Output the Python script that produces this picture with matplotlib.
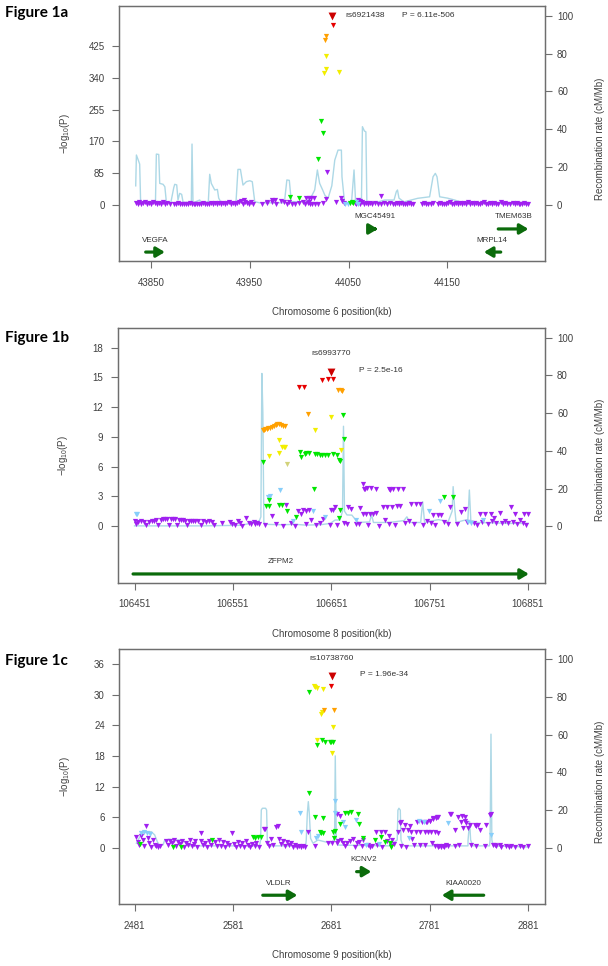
import matplotlib
matplotlib.use('Agg')
import matplotlib.pyplot as plt

plt.rcParams['font.family'] = ['Liberation Sans', 'DejaVu Sans']
plt.rcParams['mathtext.default'] = 'regular'

# ---------------- Figure 1a : chromosome 6 ----------------
a_lead = [(44033.5, 505.2)]
a_red = [(44034.0, 481)]
a_orange = [(44027.4, 452), (44026.0, 442)]
a_yellow = [(44026.8, 399), (44027.1, 363), (44025.4, 354), (44040.6, 355)]
a_green = [(44021.8, 225), (44024.4, 193), (44019.0, 124), (43991.0, 21), (43999.5, 19),
           (44051.0, 5), (44053.0, 6), (44054.5, 4)]
a_lightblue = [(44046, 1), (44049, 2), (44057, 8), (44060, 3)]
a_purple = [(44028, 88), (43944, 14), (43972, 14), (43975, 12), (43982, 10), (44007, 18),
            (44009.5, 17), (44012, 18), (44014.5, 17), (44027.5, 15), (44042.7, 19),
            (44059.5, 14), (44062, 11), (44083, 23), (43967, 8), (43990, 6), (44000, 5),
            (44010, 8),
            (43835, 5), (43837, 3), (43838, 7), (43840, 2), (43842, 4), (43844, 6), (43846, 3),
            (43848, 5), (43850, 2), (43852, 6), (43854, 4), (43856, 1), (43858, 5), (43860, 3),
            (43862, 6), (43864, 2), (43866, 4), (43869, 2), (43873, 3), (43875, 1), (43877, 4),
            (43879, 2), (43881, 3), (43883, 1), (43885, 3), (43887, 2), (43889, 4), (43891, 1),
            (43893, 3), (43895, 2), (43897, 1), (43899, 3), (43901, 2), (43903, 4), (43905, 1),
            (43907, 3), (43909, 2), (43911, 4), (43913, 3), (43915, 5), (43917, 2), (43919, 4),
            (43921, 3), (43923, 5), (43925, 2), (43927, 4), (43929, 6), (43931, 3), (43933, 5),
            (43935, 2), (43937, 4), (43939, 6), (43941, 9), (43943, 3), (43945, 7), (43947, 5),
            (43949, 3), (43951, 6), (43953, 2), (43962, 2), (43967, 4), (43972, 6), (43977, 3),
            (43985, 8), (43988, 2), (43993, 1), (43996, 3), (44004, 6), (44006, 2), (44009, 4),
            (44011, 1), (44013, 3), (44016, 2), (44019, 1), (44024, 5), (44037, 7), (44043, 9),
            (44045, 4), (44056, 5), (44058, 2), (44060, 8), (44062, 3), (44064, 6), (44066, 2),
            (44068, 5), (44070, 1), (44072, 4), (44074, 2), (44077, 5), (44080, 3), (44083, 1),
            (44086, 4), (44089, 2), (44092, 5), (44095, 1), (44097, 3), (44099, 4), (44101, 2),
            (44103, 5), (44105, 1), (44107, 3), (44109, 2), (44111, 4), (44113, 1), (44115, 3),
            (44124, 2), (44126, 5), (44128, 1), (44130, 3), (44133, 2), (44135, 4), (44141, 1),
            (44143, 5), (44145, 2), (44147, 3), (44149, 1), (44151, 4), (44153, 6), (44155, 2),
            (44157, 3), (44159, 5), (44161, 1), (44163, 4), (44165, 2), (44167, 5), (44169, 3),
            (44171, 6), (44173, 2), (44175, 4), (44177, 1), (44179, 5), (44181, 3), (44183, 2),
            (44185, 4), (44187, 6), (44189, 1), (44191, 3), (44193, 5), (44195, 2), (44197, 4),
            (44199, 1), (44201, 3), (44204, 6), (44206, 2), (44208, 4), (44210, 1), (44213, 3),
            (44216, 5), (44218, 2), (44220, 4), (44222, 1), (44224, 3), (44226, 2), (44228, 4),
            (44230, 1), (44232, 2)]
a_rate = [(43834.5, 10), (43835.2, 26.3), (43837.5, 23), (43838.5, 21.5), (43839.5, 1),
          (43845, 1.2), (43854.5, 1.5), (43855.4, 26.8), (43857.8, 26.6), (43858.8, 11.3),
          (43862.2, 10.8), (43864, 9.5), (43865.5, 1.6), (43870, 1), (43873, 9), (43874, 10.8),
          (43876, 10.5), (43877.3, 2.5), (43879, 6), (43881, 5.5), (43882.5, 1.2),
          (43890.8, 1.2), (43891.5, 32.1), (43892.5, 1), (43899.3, 2.5), (43901, 1),
          (43908, 1.5), (43909.4, 16.1), (43911, 11.3), (43914.5, 7.8), (43917.2, 8.1),
          (43918.5, 3.5), (43921, 1.1), (43936, 1.2), (43938, 18.7), (43940.5, 18.7),
          (43943.1, 10.4), (43946.5, 12.2), (43950, 12.7), (43952.5, 12.2), (43955, 1.6),
          (43960, 1), (43985, 1), (43987.5, 13.1), (43990, 12.9), (43992, 1.6), (44008, 1.6),
          (44013, 5), (44015.7, 7.8), (44018.4, 18.4), (44020.7, 11.3), (44024, 7.5),
          (44026, 5), (44029.2, 3.4), (44033, 10), (44036, 23.6), (44039.3, 28.9),
          (44042.7, 28.9), (44043.3, 14.8), (44046, 0.7), (44053, 1.5), (44055.5, 18.4),
          (44057, 2.5), (44063, 1.5), (44064, 41.3), (44066, 39), (44067.5, 38.6),
          (44068.5, 1), (44080, 1.5), (44086.5, 2.5), (44096, 2.5), (44098.3, 6.9),
          (44099.5, 7.8), (44101, 3.5), (44106, 1.5), (44120, 3.4), (44132, 4.2),
          (44135.5, 14.8), (44137.8, 16.6), (44139.5, 14.8), (44142.2, 4.2), (44150, 3.5),
          (44157.4, 2.5), (44163, 1.5), (44175, 0.8), (44200, 0.6), (44232, 0.3)]
# gene: name, tail, head, arrow y, label x, label y
a_genes = [('VEGFA', 43844.6, 43864.0, -127, 43854, -95),
           ('MGC45491', 44075.0, 44079.5, -65, 44077, -32),
           ('TMEM63B', 44201.5, 44232.0, -65, 44217, -32),
           ('MRPL14', 44204.0, 44187.0, -127, 44195, -95)]

# ---------------- Figure 1b : chromosome 8 ----------------
b_lead = [(106650.8, 15.6)]
b_red = [(106641.7, 14.75), (106648.1, 14.8), (106652.5, 14.8), (106618.3, 14.0), (106623.7, 14.05)]
b_orange = [(106658.3, 13.75), (106660.5, 13.7), (106661.7, 13.65), (106627.1, 11.3),
            (106581.3, 9.7), (106582.5, 9.75), (106583.7, 9.8), (106585.5, 9.85), (106587.1, 9.9),
            (106588.8, 9.95), (106590.5, 10.05), (106592.9, 10.12), (106594.5, 10.2),
            (106595.6, 10.28), (106597.9, 10.32), (106600.0, 10.22), (106602.4, 10.12),
            (106604.4, 10.12)]
b_yellow = [(106650.5, 11.05), (106634.2, 9.7), (106598.3, 8.7), (106600.7, 7.96), (106602.5, 7.96),
            (106604.0, 7.96), (106597.6, 7.36), (106587.8, 7.09), (106660.7, 7.7)]
b_khaki = [(106606.4, 6.28)]
b_green = [(106662.7, 11.2), (106663.7, 8.8), (106581.3, 6.45), (106619.3, 7.5), (106620.5, 7.0),
           (106624.4, 7.3), (106625.4, 7.35), (106628.8, 7.4), (106634.6, 7.3), (106637.0, 7.25),
           (106639.6, 7.2), (106642.0, 7.2), (106644.7, 7.2), (106648.1, 7.2), (106653.2, 7.26),
           (106656.6, 7.2), (106659.3, 6.7), (106660.2, 6.6), (106633.5, 3.8), (106587.4, 2.66),
           (106585.0, 2.05), (106587.4, 2.05), (106597.6, 2.15), (106601.3, 2.15), (106606.4, 1.5),
           (106615.6, 0.9), (106659.6, 1.65), (106658.6, 0.8), (106765.7, 2.9), (106774.9, 2.9)]
b_lightblue = [(106452, 1.25), (106454, 1.2), (106588.4, 3.06), (106586.5, 2.9), (106598.6, 3.66),
               (106632, 1.5), (106612, 0.5), (106645, 0.9), (106676, 0.6), (106750, 1.5),
               (106762, 2.5), (106790, 0.4), (106793, 0.3), (106805, 0.6)]
b_purple = [(106683.4, 4.3), (106684.5, 3.8), (106685.1, 3.75), (106687.8, 3.85), (106691.8, 3.85),
            (106696.9, 3.77), (106709.5, 3.77), (106711.0, 3.7), (106713.9, 3.73), (106719.0, 3.73),
            (106724.0, 3.73),
            (106591.2, 1.0), (106605.4, 2.1), (106617.3, 1.5), (106620.0, 1.2), (106622.3, 1.6),
            (106625.5, 1.55), (106628.8, 1.6), (106630.8, 0.6), (106643.0, 0.7), (106651.2, 1.65),
            (106653.0, 1.6), (106655.0, 1.9), (106668.1, 1.9), (106671.5, 1.7), (106680.0, 1.8),
            (106683.0, 1.25), (106686.0, 1.25), (106690.0, 1.25), (106693.0, 1.25), (106697.0, 1.3),
            (106703.7, 1.9), (106705.4, 0.6), (106708.0, 1.9), (106713.0, 1.95), (106718.0, 2.0),
            (106721.0, 2.05), (106732.5, 2.25), (106737.6, 2.25), (106741.0, 2.2), (106754.6, 1.15),
            (106759.6, 1.15), (106762.4, 1.15), (106771.5, 1.9), (106783.4, 1.4), (106786.8, 1.7),
            (106802.0, 1.25), (106807.0, 1.25), (106813.2, 1.25), (106816.6, 0.8), (106822.3, 1.3),
            (106834.2, 1.9), (106837.6, 1.25), (106847.0, 1.25), (106851.0, 1.25),
            (106451, 0.5), (106453, 0.2), (106455, 0.45), (106458, 0.5), (106461, 0.4),
            (106463, 0.15), (106466, 0.45), (106469, 0.5), (106471, 0.55), (106473, 0.6),
            (106475, 0.1), (106478, 0.65), (106480, 0.7), (106482, 0.7), (106484, 0.72),
            (106486, 0.1), (106488, 0.75), (106490, 0.72), (106492, 0.7), (106494, 0.1),
            (106496, 0.68), (106498, 0.6), (106500, 0.58), (106502, 0.55), (106504, 0.1),
            (106506, 0.55), (106508, 0.5), (106510, 0.52), (106513, 0.5), (106516, 0.48),
            (106519, 0.1), (106521, 0.5), (106524, 0.45), (106527, 0.55), (106530, 0.4),
            (106532, 0.1), (106540, 0.35), (106548, 0.45), (106550, 0.2), (106553, 0.15),
            (106556, 0.55), (106558, 0.3), (106560, 0.05), (106564, 0.8), (106567, 0.35),
            (106569, 0.2), (106572, 0.4), (106574, 0.25), (106576, 0.35), (106578, 0.2),
            (106584, 0.1), (106595, 0.2), (106602, 0.05), (106610, 0.3), (106614, 0.05),
            (106625, 0.2), (106636, 0.1), (106640, 0.35), (106650, 0.1), (106657, 0.1),
            (106664, 0.3), (106667, 0.25), (106676, 0.2), (106679, 0.25), (106688, 0.1),
            (106700, 0.05), (106710, 0.25), (106716, 0.15), (106726, 0.3), (106730, 0.55),
            (106735, 0.2), (106744, 0.1), (106748, 0.5), (106752, 0.3), (106757, 0.15),
            (106766, 0.4), (106770, 0.2), (106779, 0.25), (106789, 0.45), (106796, 0.3),
            (106799, 0.1), (106804, 0.4), (106810, 0.2), (106815, 0.5), (106819, 0.3),
            (106825, 0.35), (106828, 0.5), (106831, 0.3), (106836, 0.4), (106840, 0.2),
            (106843, 0.6), (106846, 0.3), (106849, 0.1)]
b_rate = [(106451, 0.2), (106520, 0.2), (106560, 0.5), (106568, 1.5), (106572, 3), (106575, 2),
          (106578, 3), (106579.5, 5), (106580.5, 81), (106581.5, 60), (106582.5, 2), (106585, 1),
          (106600, 0.8), (106615, 1), (106625, 0.6), (106640, 0.8), (106650, 1.5), (106655, 3.3),
          (106660, 3.3), (106662.5, 8), (106663.5, 53), (106664.5, 8), (106667, 6), (106672, 5.9),
          (106678, 2), (106690, 2.3), (106692, 6), (106694, 2), (106710, 2), (106725, 3),
          (106728, 5), (106731, 2), (106742, 2), (106744, 13), (106746, 2), (106760, 3.5),
          (106770, 2.5), (106774, 8), (106775, 21), (106776.5, 10), (106778, 2), (106785, 3),
          (106790, 3.5), (106791.5, 19.2), (106793, 3), (106800, 2), (106815, 1.8),
          (106830, 1.5), (106851, 1.5)]
b_genes = [('ZFPM2', 106449.5, 106852.0, -4.81, 106600, -3.57)]

# ---------------- Figure 1c : chromosome 9 ----------------
c_lead = [(2681.7, 33.7)]
c_red = [(2680.4, 31.7)]
c_orange = [(2673.3, 26.9), (2683.8, 27.0)]
c_yellow = [(2663.4, 31.6), (2664.8, 31.4), (2666.8, 31.2), (2672.9, 31.05), (2670.2, 26.2),
            (2671.5, 26.5), (2682.8, 23.6), (2666.2, 21.1), (2682.1, 18.5)]
c_green = [(2658.7, 30.6), (2671.6, 21.1), (2675.0, 20.8), (2679.4, 20.7), (2681.1, 20.7),
           (2682.8, 20.8), (2666.2, 20.2), (2658.0, 10.7), (2664.1, 6.0), (2672.6, 5.8),
           (2669.2, 3.2), (2670.5, 3.0), (2672.6, 3.0), (2682.7, 3.2), (2684.4, 3.4), (2683.8, 2.0),
           (2689.5, 4.7), (2694.6, 6.8), (2698.0, 6.9), (2701.4, 7.0), (2708.2, 6.7), (2708.8, 4.7),
           (2713.3, 1.9), (2725.1, 1.6), (2731.9, 2.1), (2735.3, 1.2), (2740.4, 1.0), (2742.1, 0.1),
           (2601.4, 2.1), (2604.0, 2.0), (2606.5, 2.1), (2609.2, 2.2), (2487.0, 0.8),
           (2520.1, 0.1), (2528.6, 0.1), (2560.0, 1.6)]
c_lightblue = [(2488, 3.0), (2491, 3.1), (2494, 3.0), (2497, 2.8), (2649.2, 6.8), (2649.9, 3.2),
               (2666, 1.9), (2668, 2.3), (2684.8, 9.1), (2684.8, 6.8), (2693, 5.0), (2695, 4.0),
               (2706, 5.5), (2716, 0.5), (2760, 2.0), (2770, 5.2), (2775, 5.1), (2800, 4.8),
               (2843.3, 2.5), (2730, 0.7)]
c_purple = [(2483, 2.2), (2484.5, 1.2), (2486, 0.6), (2488, 2.3), (2489.5, 1.6), (2491, 0.4),
            (2493, 4.3), (2494.5, 1.9), (2496, 0.9), (2498, 0.1), (2500, 1.6), (2501.5, 0.6),
            (2503, 0.3), (2505, 0.2), (2507, 0.4), (2513, 1.4), (2515, 0.5), (2517, 1.3),
            (2519, 0.9), (2521, 1.5), (2523, 0.3), (2525, 1.2), (2527, 0.8), (2529, 1.4),
            (2531, 0.2), (2533, 1.0), (2535, 0.5), (2537, 1.6), (2539, 0.3), (2541, 0.8),
            (2543, 1.3), (2545, 0.2), (2548.3, 3.0), (2549, 1.4), (2551, 0.5), (2553, 1.0),
            (2555, 0.2), (2557, 1.3), (2559, 0.6), (2563, 1.1), (2565, 0.3), (2567, 1.5),
            (2569, 0.4), (2571, 1.2), (2573, 0.2), (2575, 1.0), (2577, 0.5), (2580.1, 2.9),
            (2582, 0.8), (2584, 0.2), (2586, 1.2), (2588, 0.4), (2590, 0.9), (2592, 0.1),
            (2594, 1.3), (2596, 0.5), (2598, 0.2), (2600, 0.8), (2603, 0.3), (2605, 1.0),
            (2608, 0.2), (2612.3, 3.65), (2614, 3.7), (2616, 1.0), (2618, 0.4), (2620, 1.8),
            (2622, 0.6), (2625.2, 4.0), (2626.9, 4.2), (2628, 1.7), (2630, 0.8), (2632, 1.3),
            (2634, 0.3), (2636, 1.1), (2638, 0.5), (2640, 0.9), (2642, 0.2), (2644, 0.6),
            (2646, 0.2), (2648, 0.4), (2650, 0.1), (2652, 0.3), (2654, 0.2), (2657.7, 3.2),
            (2664.5, 0.3), (2678.0, 0.9), (2681.4, 0.9), (2686.8, 6.7), (2689.9, 6.3),
            (2686.5, 1.05), (2688, 1.3), (2691, 1.6), (2693, 1.0), (2695, 0.3), (2697, 0.9),
            (2700, 1.4), (2703, 1.7), (2705, 0.2), (2706.8, 0.9), (2709, 1.2), (2712, 0.4),
            (2713.6, 1.6), (2718, 0.5), (2720, 0.1), (2722, 0.3), (2726.8, 3.2), (2728, 0.6),
            (2731.9, 3.2), (2733, 0.2), (2735.3, 3.2), (2738, 1.3), (2740, 2.3), (2742, 0.4),
            (2743, 1.5), (2745, 0.8), (2748.8, 3.2), (2750.9, 4.8), (2752, 0.3), (2752.2, 5.1),
            (2754.3, 3.5), (2755.6, 4.5), (2757, 0.2), (2759.0, 3.5), (2760.7, 4.2),
            (2762.4, 3.2), (2762.7, 1.8), (2765, 0.5), (2767.5, 3.2), (2767.8, 5.15),
            (2770.8, 3.2), (2771, 0.5), (2772.9, 5.15), (2775.9, 3.2), (2776, 0.6),
            (2777.6, 5.1), (2778.0, 5.15), (2779.3, 3.2), (2781.0, 5.35), (2781.4, 5.35),
            (2782.7, 3.2), (2783, 1.0), (2784.4, 5.6), (2784.7, 5.8), (2786.1, 3.2), (2786, 0.4),
            (2787.8, 5.8), (2788.8, 6.1), (2789.5, 6.0), (2789.5, 3.0), (2789.5, 0.2),
            (2791, 0.4), (2793, 0.1), (2794.6, 0.3), (2796, 0.2), (2798, 0.5), (2799.6, 0.3),
            (2801.7, 6.65), (2803, 6.65), (2806.4, 3.5), (2806.4, 0.4), (2809.8, 6.0),
            (2811, 0.6), (2813.2, 5.0), (2813.5, 6.3), (2814.9, 3.85), (2816.6, 5.35),
            (2816.9, 6.1), (2818.3, 4.8), (2820.0, 3.85), (2821.7, 4.5), (2823, 0.5),
            (2827.1, 4.5), (2828.5, 4.3), (2828.5, 0.4), (2830.5, 4.5), (2831.8, 3.5),
            (2836.9, 0.3), (2838.0, 4.5), (2842.3, 6.5), (2843.1, 6.6), (2845, 0.5),
            (2847.1, 0.6), (2849, 0.3), (2852.2, 0.6), (2854, 0.2), (2859, 0.4), (2862, 0.2),
            (2864, 0.3), (2868, 0.2), (2872.5, 0.3), (2876, 0.1), (2881, 0.3)]
c_rate = [(2482.9, 2.5), (2484.6, 4.2), (2488, 7.4), (2493, 8.6), (2498, 8.6), (2501.5, 6.9),
          (2504.2, 3.3), (2506.6, 1.1), (2510, 1.6), (2511.7, 4.2), (2516.7, 4.6), (2521.8, 4.2),
          (2527, 4.2), (2532, 3.3), (2535.4, 1.1), (2608, 1.1), (2609.2, 4.2), (2609.9, 20.1),
          (2611, 21), (2614.3, 21), (2615.3, 20), (2616, 4.2), (2618.4, 1.1), (2655, 1.1),
          (2655.6, 4.2), (2656.7, 18.3), (2657.7, 24.5), (2658.7, 18.3), (2660, 5.1),
          (2662.4, 2.5), (2667.5, 4.2), (2674.3, 3.3), (2681, 2.5), (2684.4, 5), (2685.1, 48.7),
          (2686.1, 5), (2688, 1.5), (2740, 1.1), (2748.1, 4.2), (2748.8, 20), (2749.8, 21),
          (2751.2, 20), (2751.9, 4.2), (2754, 1.1), (2820, 1.1), (2820.1, 4.2), (2821.7, 14),
          (2822.7, 4.2), (2825, 1.1), (2841.9, 1.1), (2842.5, 4.2), (2843.4, 60.2),
          (2844.3, 4.2), (2845.6, 1.1), (2881, 0.5)]
c_genes = [('KCNV2', 2706.8, 2721.7, -4.64, 2714.4, -2.35),
           ('VLDLR', 2611.4, 2646.5, -9.25, 2627.9, -6.9),
           ('KIAA0020', 2836.0, 2793.5, -9.25, 2815.0, -6.9)]

ld_colours = [('purple', '#A020F0'), ('lightblue', '#87CEFA'), ('green', '#00E600'),
              ('khaki', '#D2D27A'), ('yellow', '#F2EE00'), ('orange', '#FFA000'),
              ('red', '#E60000')]

fig = plt.figure(figsize=(6.08, 9.66), dpi=100)


def locus_panel(rect, groups, rate, genes, xlim, ylim, k, yticks, xticks, rs_text, rs_xy,
                p_text, p_xy, xlabel, fig_label, fig_label_y):
    ax = fig.add_axes(rect)
    ax2 = ax.twinx()
    rx = [p for p, r in rate]
    ry = [r for p, r in rate]
    ax2.plot(rx, ry, color='#ADD8E6', lw=1.0, zorder=1)
    ax2.set_ylim(ylim[0] / k, ylim[1] / k)
    ax2.set_yticks([0, 20, 40, 60, 80, 100])
    ax.set_zorder(ax2.get_zorder() + 1)
    ax.patch.set_visible(False)

    for name, col in ld_colours:
        pts = groups.get(name, [])
        if pts:
            ax.scatter([p for p, v in pts], [v for p, v in pts], marker='v', s=14,
                       color=col, linewidths=0, zorder=3)
    lead = groups['lead']
    ax.scatter([p for p, v in lead], [v for p, v in lead], marker='v', s=32,
               color='#CC0000', linewidths=0, zorder=4)

    for name, tail, head, ay, lx, ly in genes:
        ax.annotate('', xy=(head, ay), xytext=(tail, ay),
                    arrowprops=dict(arrowstyle='-|>,head_width=0.3,head_length=0.5',
                                    color='#0B6B0B', lw=2.3, shrinkA=0, shrinkB=0,
                                    mutation_scale=10))
        ax.text(lx, ly, name, fontsize=5.8, color='#333333', ha='center', va='center')

    ax.text(rs_xy[0], rs_xy[1], rs_text, fontsize=6, color='#333333', ha='center', va='center')
    ax.text(p_xy[0], p_xy[1], p_text, fontsize=6, color='#333333', ha='center', va='center')

    ax.set_xlim(*xlim)
    ax.set_ylim(*ylim)
    ax.set_xticks(xticks)
    ax.set_yticks(yticks)
    for a in (ax, ax2):
        for s in a.spines.values():
            s.set_color('#6E6E6E')
            s.set_linewidth(0.9)
    ax.tick_params(axis='y', direction='out', length=5, width=0.8, color='#6E6E6E',
                   labelsize=7, labelcolor='#404040', pad=5.5)
    ax.tick_params(axis='x', direction='out', length=5, width=0.8, color='#6E6E6E',
                   labelsize=7, labelcolor='#404040', pad=7)
    ax2.tick_params(axis='y', direction='out', length=5, width=0.8, color='#6E6E6E',
                    labelsize=7, labelcolor='#404040', pad=4)
    ax.set_ylabel('$-$log$_{10}$(P)', fontsize=7, color='#404040')
    ax.yaxis.set_label_coords(-0.112, 0.5)
    ax2.set_ylabel('Recombination rate (cM/Mb)', fontsize=7, color='#404040')
    ax2.yaxis.set_label_coords(1.118, 0.48)
    ax.set_xlabel(xlabel, fontsize=7, color='#404040')
    ax.xaxis.set_label_coords(0.5, -0.2)
    ax.xaxis.label.set_va('center')
    fig.text(0.008, fig_label_y, fig_label, fontsize=11, fontweight='bold',
             family=['Lato', 'DejaVu Sans'], ha='left', va='center')


locus_panel([0.1964, 0.7298, 0.6993, 0.2643],
            {'lead': a_lead, 'red': a_red, 'orange': a_orange, 'yellow': a_yellow,
             'green': a_green, 'lightblue': a_lightblue, 'purple': a_purple},
            a_rate, a_genes, (43818, 44248.4), (-151, 534), 5.071,
            [0, 85, 170, 255, 340, 425], [43850, 43950, 44050, 44150],
            'rs6921438', (44066.6, 507), 'P = 6.11e-506', (44131, 507),
            'Chromosome 6 position(kb)', 'Figure 1a', 1 - 13.5 / 966)

locus_panel([0.1941, 0.3968, 0.7016, 0.264],
            {'lead': b_lead, 'red': b_red, 'orange': b_orange, 'yellow': b_yellow,
             'khaki': b_khaki, 'green': b_green, 'lightblue': b_lightblue, 'purple': b_purple},
            b_rate, b_genes, (106434.2, 106868), (-5.69, 20.02), 0.1902,
            [0, 3, 6, 9, 12, 15, 18], [106451, 106551, 106651, 106751, 106851],
            'rs6993770', (106651.1, 17.37), 'P = 2.5e-16', (106701.4, 15.69),
            'Chromosome 8 position(kb)', 'Figure 1b', 1 - 338 / 966)

locus_panel([0.1964, 0.0639, 0.6993, 0.2643],
            {'lead': c_lead, 'red': c_red, 'orange': c_orange, 'yellow': c_yellow,
             'green': c_green, 'lightblue': c_lightblue, 'purple': c_purple},
            c_rate, c_genes, (2465.65, 2897.9), (-11.02, 38.93), 0.3698,
            [0, 6, 12, 18, 24, 30, 36], [2481, 2581, 2681, 2781, 2881],
            'rs10738760', (2681.8, 37.1), 'P = 1.96e-34', (2734.6, 33.85),
            'Chromosome 9 position(kb)', 'Figure 1c', 1 - 660.7 / 966)

fig.savefig('out.png', dpi=100)
